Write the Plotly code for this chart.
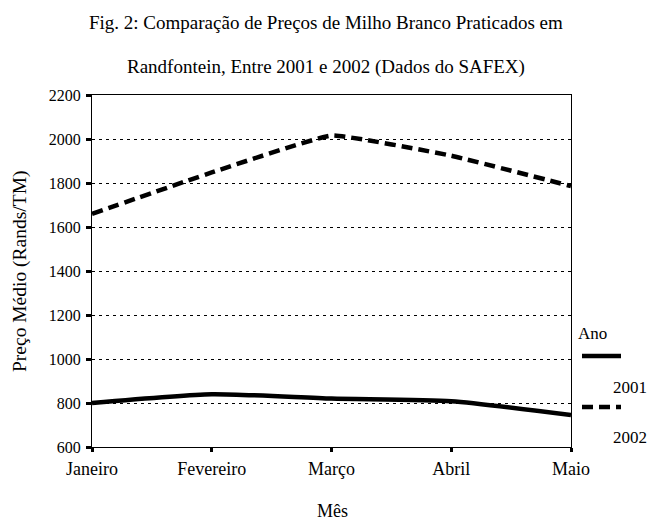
import plotly.graph_objects as go

meses = ["Janeiro", "Fevereiro", "Março", "Abril", "Maio"]
precos_2001 = [800, 840, 820, 808, 745]
precos_2002 = [1660, 1848, 2016, 1924, 1786]
anos = ["2001", "2002"]
y_ticks = [600, 800, 1000, 1200, 1400, 1600, 1800, 2000, 2200]

FONT = "Liberation Serif"
W, H = 648, 520
L, R, T, B = 92, 77, 95, 73
PW, PH = W - L - R, H - T - B

def px(x):
    return (x - L) / PW

def py(y):
    return (H - B - y) / PH

fig = go.Figure()
fig.add_trace(go.Scatter(x=meses, y=precos_2001, mode="lines", name=anos[0],
                         line=dict(color="black", width=4.5, shape="spline", smoothing=0.6),
                         showlegend=False))
fig.add_trace(go.Scatter(x=meses, y=precos_2002, mode="lines", name=anos[1],
                         line=dict(color="black", width=4.5, dash="11px,6px", shape="spline", smoothing=0.3),
                         showlegend=False))

fig.update_layout(
    width=W, height=H,
    margin=dict(l=L, r=R, t=T, b=B),
    paper_bgcolor="white", plot_bgcolor="white",
    font=dict(family=FONT, size=16, color="black"),
    showlegend=False,
)
fig.update_xaxes(
    type="category", range=[0, len(meses) - 1],
    showline=True, linecolor="black", linewidth=1, mirror=True,
    ticks="outside", ticklen=4, tickwidth=3, tickcolor="black",
    showgrid=False, zeroline=False, automargin=False,
    ticklabelstandoff=1,
    tickfont=dict(family=FONT, size=18),
)
fig.update_yaxes(
    range=[600, 2200], tickvals=y_ticks, ticktext=[str(v) for v in y_ticks],
    showline=True, linecolor="black", linewidth=1, mirror=True,
    ticks="outside", ticklen=5, tickwidth=3, tickcolor="black",
    showgrid=True, gridcolor="black", gridwidth=1, griddash="3px,4px",
    zeroline=False, automargin=False,
    ticklabelstandoff=2,
    tickfont=dict(family=FONT, size=16),
)

# Axis titles
fig.add_annotation(text="Mês", xref="paper", yref="paper", x=px(332), y=py(511),
                   showarrow=False, xanchor="center", yanchor="middle", font=dict(family=FONT, size=18))
fig.add_annotation(text="Preço Médio (Rands/TM)", xref="paper", yref="paper", x=px(20), y=py(272),
                   showarrow=False, xanchor="center", yanchor="middle", textangle=-90,
                   font=dict(family=FONT, size=19.5))

# Title (two lines)
fig.add_annotation(text="Fig. 2: Comparação de Preços de Milho Branco Praticados em",
                   xref="paper", yref="paper", x=px(326), y=py(22), showarrow=False,
                   font=dict(family=FONT, size=19), xanchor="center", yanchor="middle")
fig.add_annotation(text="Randfontein, Entre 2001 e 2002 (Dados do SAFEX)",
                   xref="paper", yref="paper", x=px(326), y=py(67), showarrow=False,
                   font=dict(family=FONT, size=19), xanchor="center", yanchor="middle")

# Legend drawn manually
fig.add_annotation(text="Ano", xref="paper", yref="paper", x=px(576), y=py(333),
                   showarrow=False, xanchor="left", yanchor="middle", font=dict(family=FONT, size=17))
fig.add_shape(type="line", xref="paper", yref="paper", x0=px(582), x1=px(621), y0=py(356), y1=py(356),
              line=dict(color="black", width=4.5))
fig.add_annotation(text=anos[0], xref="paper", yref="paper", x=px(611), y=py(387),
                   showarrow=False, xanchor="left", yanchor="middle", font=dict(family=FONT, size=17))
fig.add_shape(type="line", xref="paper", yref="paper", x0=px(582), x1=px(621), y0=py(407), y1=py(407),
              line=dict(color="black", width=4.5, dash="11px,6px"))
fig.add_annotation(text=anos[1], xref="paper", yref="paper", x=px(611), y=py(437),
                   showarrow=False, xanchor="left", yanchor="middle", font=dict(family=FONT, size=17))

fig.write_html("out.html", config={"displayModeBar": False},
               post_script="document.body.style.margin='0px';")
